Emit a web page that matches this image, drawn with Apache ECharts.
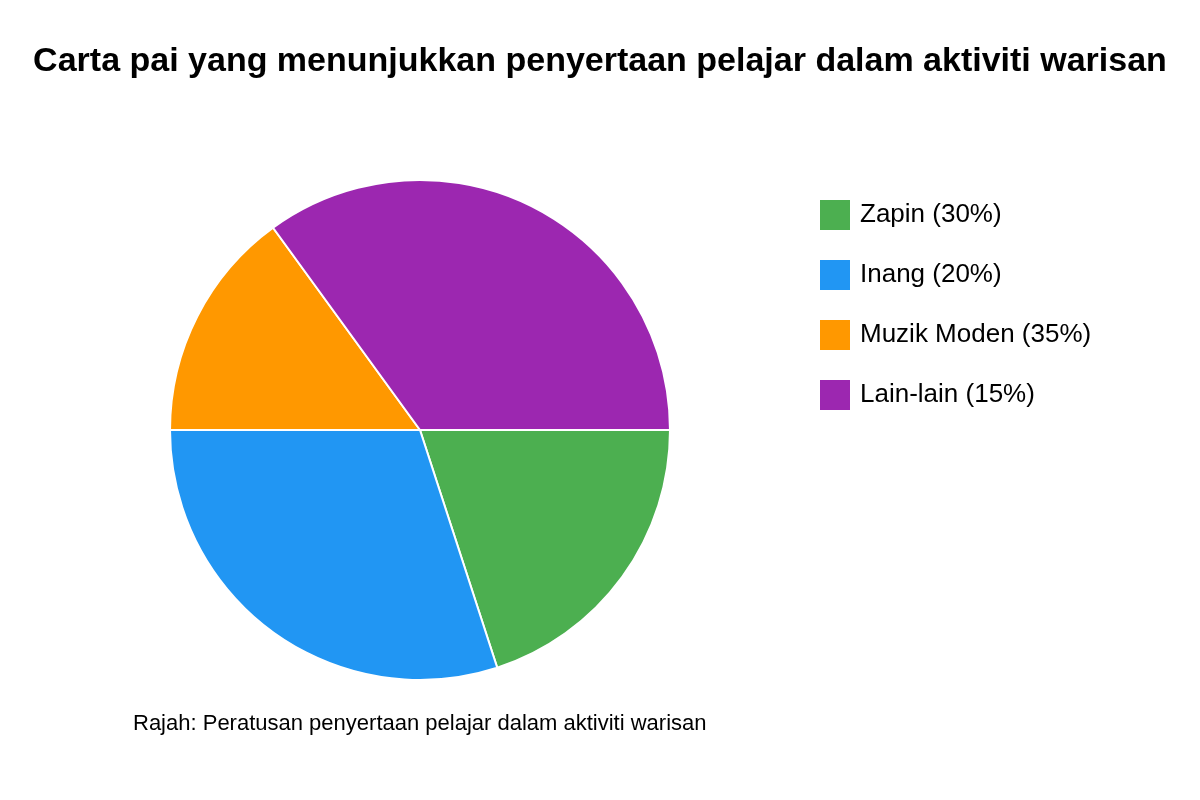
<!DOCTYPE html>
<html>
<head>
<meta charset="utf-8">
<script src="https://cdn.jsdelivr.net/npm/echarts@6/dist/echarts.min.js"></script>
<style>
  html, body { margin: 0; padding: 0; background: #fff; }
  #chart { width: 1200px; height: 800px; }
</style>
</head>
<body>
<div id="chart"></div>
<script>
// legend texts as printed, slice sizes as drawn
const names = ['Zapin (30%)', 'Inang (20%)', 'Muzik Moden (35%)', 'Lain-lain (15%)'];
const values = [20, 30, 15, 35];
const colors = ['#4CAF50', '#2196F3', '#FF9800', '#9C27B0'];

const chart = echarts.init(document.getElementById('chart'), null, { renderer: 'canvas' });

chart.setOption({
  animation: false,
  title: [
    {
      text: 'Carta pai yang menunjukkan penyertaan pelajar dalam aktiviti warisan',
      left: 'center',
      top: 45,
      padding: 0,
      textStyle: { fontFamily: 'Liberation Sans', fontSize: 34, fontWeight: 'bold', color: '#000' }
    },
    {
      text: 'Rajah: Peratusan penyertaan pelajar dalam aktiviti warisan',
      left: 133,
      top: 713,
      padding: 0,
      textStyle: { fontFamily: 'Liberation Sans', fontSize: 22, fontWeight: 'normal', color: '#000' }
    }
  ],
  legend: {
    orient: 'vertical',
    left: 820,
    top: 199,
    padding: 0,
    icon: 'rect',
    itemWidth: 30,
    itemHeight: 30,
    itemGap: 28,
    selectedMode: false,
    itemStyle: { borderWidth: 0 },
    textStyle: { fontFamily: 'Liberation Sans', fontSize: 26, lineHeight: 32, color: '#000', padding: [0, 0, 0, 5] }
  },
  series: [{
    type: 'pie',
    center: [420, 430],
    radius: 250,
    startAngle: 0,
    clockwise: true,
    label: { show: false },
    labelLine: { show: false },
    emphasis: { disabled: true },
    itemStyle: { borderColor: '#fff', borderWidth: 2 },
    data: names.map((n, i) => ({ name: n, value: values[i], itemStyle: { color: colors[i] } }))
  }]
});
</script>
</body>
</html>
